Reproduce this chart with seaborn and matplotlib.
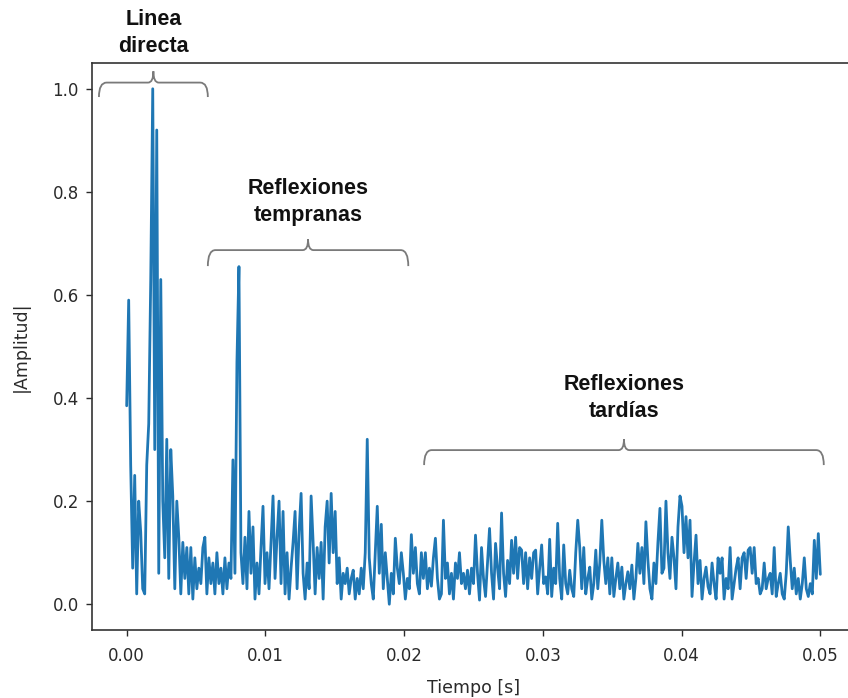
import numpy as np
import pandas as pd
import matplotlib
matplotlib.use("Agg")
import matplotlib.pyplot as plt
from matplotlib.path import Path
from matplotlib.patches import PathPatch
import seaborn as sns

# ---- data ----
duration = 0.05
amplitude = [
    0.385, 0.59, 0.27, 0.07, 0.25, 0.02, 0.20, 0.14, 0.03, 0.02,
    0.27, 0.35, 0.63, 1.00, 0.30, 0.92, 0.06, 0.63, 0.20, 0.09,
    0.32, 0.05, 0.30, 0.21, 0.03, 0.20, 0.13, 0.02, 0.12, 0.05,
    0.11, 0.02, 0.11, 0.01, 0.09, 0.03, 0.07, 0.04, 0.11, 0.13,
    0.02, 0.09, 0.04, 0.08, 0.02, 0.10, 0.04, 0.07, 0.02, 0.09,
    0.03, 0.08, 0.05, 0.28, 0.06, 0.47, 0.655, 0.10, 0.04, 0.13,
    0.03, 0.18, 0.06, 0.15, 0.01, 0.08, 0.02, 0.11, 0.19, 0.04,
    0.10, 0.03, 0.12, 0.21, 0.05, 0.13, 0.20, 0.04, 0.18, 0.02,
    0.10, 0.01, 0.07, 0.12, 0.18, 0.03, 0.14, 0.215, 0.06, 0.01,
    0.08, 0.03, 0.21, 0.12, 0.02, 0.11, 0.05, 0.12, 0.01, 0.15,
    0.20, 0.08, 0.215, 0.10, 0.18, 0.04, 0.09, 0.01, 0.06, 0.04,
    0.07, 0.02, 0.05, 0.066, 0.01, 0.05, 0.02, 0.07, 0.03, 0.10,
    0.32, 0.09, 0.04, 0.01, 0.10, 0.19, 0.06, 0.155, 0.03, 0.10,
    0.05, 0.00, 0.06, 0.02, 0.128, 0.07, 0.04, 0.10, 0.06, 0.01,
    0.05, 0.03, 0.135, 0.06, 0.11, 0.04, 0.02, 0.10, 0.05, 0.10,
    0.03, 0.07, 0.035, 0.09, 0.128, 0.05, 0.01, 0.02, 0.163, 0.05,
    0.08, 0.02, 0.06, 0.01, 0.08, 0.05, 0.10, 0.04, 0.06, 0.03,
    0.066, 0.02, 0.07, 0.04, 0.134, 0.06, 0.008, 0.11, 0.05, 0.015,
    0.08, 0.147, 0.06, 0.01, 0.118, 0.07, 0.03, 0.177, 0.06, 0.015,
    0.085, 0.04, 0.124, 0.06, 0.13, 0.05, 0.11, 0.105, 0.04, 0.10,
    0.03, 0.09, 0.05, 0.10, 0.105, 0.02, 0.07, 0.115, 0.04, 0.053,
    0.02, 0.126, 0.015, 0.07, 0.04, 0.157, 0.05, 0.01, 0.115, 0.04,
    0.02, 0.066, 0.03, 0.015, 0.10, 0.163, 0.11, 0.03, 0.11, 0.02,
    0.05, 0.072, 0.01, 0.04, 0.105, 0.03, 0.08, 0.163, 0.085, 0.04,
    0.09, 0.02, 0.09, 0.015, 0.05, 0.08, 0.03, 0.072, 0.01, 0.04,
    0.063, 0.03, 0.076, 0.01, 0.05, 0.118, 0.06, 0.11, 0.04, 0.16,
    0.085, 0.03, 0.01, 0.08, 0.04, 0.12, 0.186, 0.06, 0.07, 0.20,
    0.10, 0.05, 0.13, 0.09, 0.03, 0.15, 0.21, 0.19, 0.10, 0.17,
    0.09, 0.163, 0.015, 0.08, 0.134, 0.04, 0.085, 0.01, 0.05, 0.072,
    0.034, 0.02, 0.08, 0.04, 0.01, 0.09, 0.06, 0.09, 0.01, 0.05,
    0.03, 0.11, 0.01, 0.04, 0.07, 0.09, 0.03, 0.09, 0.10, 0.05,
    0.105, 0.11, 0.06, 0.11, 0.04, 0.05, 0.02, 0.03, 0.08, 0.03,
    0.05, 0.06, 0.02, 0.11, 0.015, 0.04, 0.06, 0.02, 0.01, 0.06,
    0.15, 0.085, 0.03, 0.07, 0.02, 0.05, 0.01, 0.04, 0.09, 0.03,
    0.015, 0.04, 0.02, 0.124, 0.05, 0.137, 0.058,
]
n_samples = len(amplitude)
time = np.arange(n_samples) * (duration / (n_samples - 1))

region_labels = ["Linea\ndirecta", "Reflexiones\ntempranas", "Reflexiones\ntardías"]
region_start = [-0.0020, 0.00585, 0.02144]
region_end = [0.00585, 0.0203, 0.05025]

df = pd.DataFrame({"Tiempo [s]": time, "|Amplitud|": amplitude})

# ---- style ----
sns.set_style("ticks")
plt.rcParams["font.family"] = ["DejaVu Sans"]

W, H = 848, 698
fig = plt.figure(figsize=(W / 100, H / 100), dpi=100)
ax_left, ax_right, ax_top, ax_bottom = 92, 855, 63, 630
ax = fig.add_axes([ax_left / W, 1 - ax_bottom / H, (ax_right - ax_left) / W, (ax_bottom - ax_top) / H])

sns.lineplot(data=df, x="Tiempo [s]", y="|Amplitud|", ax=ax, color="#1f77b4", linewidth=2.0)

ax.set_xlim(-0.0025, 0.0525)
ax.set_ylim(-0.05, 1.05)
ax.set_xticks([0.00, 0.01, 0.02, 0.03, 0.04, 0.05])
ax.set_yticks([0.0, 0.2, 0.4, 0.6, 0.8, 1.0])
ax.xaxis.set_major_formatter(matplotlib.ticker.FormatStrFormatter("%.2f"))
ax.yaxis.set_major_formatter(matplotlib.ticker.FormatStrFormatter("%.1f"))
ax.tick_params(labelsize=12, colors="#2a2a2a", length=4.5, width=1)
ax.tick_params(axis="x", pad=8)
ax.tick_params(axis="y", pad=5)
ax.set_xlabel("Tiempo [s]", fontsize=12.5, color="#2a2a2a", labelpad=10)
ax.set_ylabel("|Amplitud|", fontsize=12.5, color="#2a2a2a", labelpad=16)
for sp in ax.spines.values():
    sp.set_color("#333333")
    sp.set_linewidth(1.2)

# ---- braces + labels ----
brace_y = [(1.012, 0.984, 1.034), (0.687, 0.656, 0.708), (0.299, 0.270, 0.320)]
text_y = [1.108, 0.78, 0.40]
rx = 0.00055


def brace(x0, x1, y_line, y_end, y_tip):
    xm = (x0 + x1) / 2
    verts = [
        (x0, y_end), (x0, y_line), (x0 + rx, y_line),
        (xm - rx * 0.7, y_line),
        (xm, y_line), (xm, y_tip),
        (xm, y_line), (xm + rx * 0.7, y_line),
        (x1 - rx, y_line),
        (x1, y_line), (x1, y_end),
    ]
    codes = [
        Path.MOVETO, Path.CURVE3, Path.CURVE3,
        Path.LINETO,
        Path.CURVE3, Path.CURVE3,
        Path.CURVE3, Path.CURVE3,
        Path.LINETO,
        Path.CURVE3, Path.CURVE3,
    ]
    return PathPatch(Path(verts, codes), facecolor="none", edgecolor="#7a7a7a",
                     linewidth=1.3, clip_on=False)


for lab, x0, x1, (yl, ye, yt), ty in zip(region_labels, region_start, region_end, brace_y, text_y):
    ax.add_patch(brace(x0, x1, yl, ye, yt))
    ax.text((x0 + x1) / 2, ty, lab, ha="center", va="center", fontsize=15.5,
            fontweight="bold", family=["Liberation Sans", "DejaVu Sans"],
            linespacing=1.35, clip_on=False, color="#111111")

fig.savefig("out.png", dpi=100)
